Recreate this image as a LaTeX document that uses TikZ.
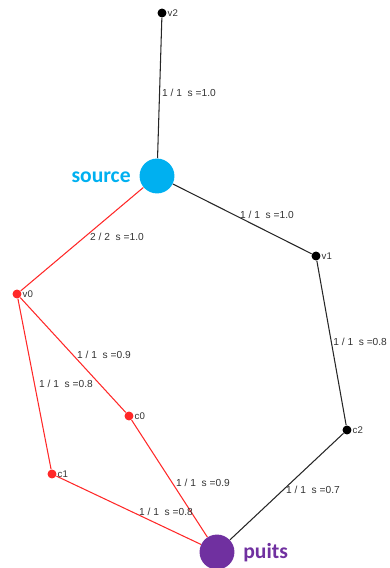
\documentclass[tikz,border=0pt]{standalone}
\usepackage{fontspec}
\setmainfont{Liberation Sans}
\newfontfamily\calib{Carlito}
\definecolor{srcblue}{RGB}{0,176,240}
\definecolor{sinkpurple}{RGB}{112,48,160}
\definecolor{edgered}{RGB}{255,40,40}
\begin{document}
\begin{tikzpicture}[x=0.02cm,y=-0.02cm,
  blackdot/.style={circle,fill=black,inner sep=0pt,minimum size=9pt*0.567},
  reddot/.style={circle,fill=edgered,inner sep=0pt,minimum size=9pt*0.567},
  vlab/.style={font=\fontsize{5.5}{6}\selectfont,text=black!80,inner sep=0.3pt},
  elab/.style={font=\fontsize{5.8}{7}\selectfont,text=black!80,inner sep=0pt},
  blk/.style={draw=black!85,line width=0.6pt},
  red/.style={draw=edgered,line width=0.6pt},
  big/.style={circle,inner sep=0pt,minimum size=35*0.567pt}]
\useasboundingbox (0,0) rectangle (389,568);
% nodes
\node[big,fill=srcblue] (src) at (157,176) {};
\node[big,fill=sinkpurple] (pts) at (217,552) {};
\node[blackdot] (v2) at (162,13) {};
\node[blackdot] (v1) at (316,256) {};
\node[blackdot] (c2) at (347,430) {};
\node[reddot] (v0) at (17,294) {};
\node[reddot] (c0) at (129,416) {};
\node[reddot] (c1) at (52,474) {};
% edges
\draw[blk] (v2) -- (src);
\draw[blk] (src) -- (v1);
\draw[blk] (v1) -- (c2);
\draw[blk] (c2) -- (pts);
\draw[red] (src) -- (v0);
\draw[red] (v0) -- (c0);
\draw[red] (v0) -- (c1);
\draw[red] (c0) -- (pts);
\draw[red] (c1) -- (pts);
% vertex labels
\node[vlab,anchor=west] (lv2) at (v2.east) {v2};
\node[vlab,anchor=west] (lv1) at (v1.east) {v1};
\node[vlab,anchor=west] (lc2) at (c2.east) {c2};
\node[vlab,anchor=west] (lv0) at (v0.east) {v0};
\node[vlab,anchor=west] (lc0) at (c0.east) {c0};
\node[vlab,anchor=west] (lc1) at (c1.east) {c1};
\node[font=\calib\bfseries\fontsize{12.3}{14}\selectfont,text=srcblue,anchor=east,inner sep=0pt] (lsrc) at (131,177) {source};
\node[font=\calib\bfseries\fontsize{12.3}{14}\selectfont,text=sinkpurple,anchor=west,inner sep=0pt] (lpts) at (243,553) {puits};
% edge labels
\node[elab] (e1) at (189,93) {1 / 1 \ s =1.0};
\node[elab] (e2) at (267,215) {1 / 1 \ s =1.0};
\node[elab] (e3) at (117,237) {2 / 2 \ s =1.0};
\node[elab] (e4) at (104,355) {1 / 1 \ s =0.9};
\node[elab] (e5) at (66,384) {1 / 1 \ s =0.8};
\node[elab,anchor=west] (e6) at (333,342) {1 / 1 \ s =0.8};
\node[elab] (e7) at (203,483) {1 / 1 \ s =0.9};
\node[elab] (e8) at (313,490) {1 / 1 \ s =0.7};
\node[elab] (e9) at (166,512) {1 / 1 \ s =0.8};
\end{tikzpicture}
\end{document}
